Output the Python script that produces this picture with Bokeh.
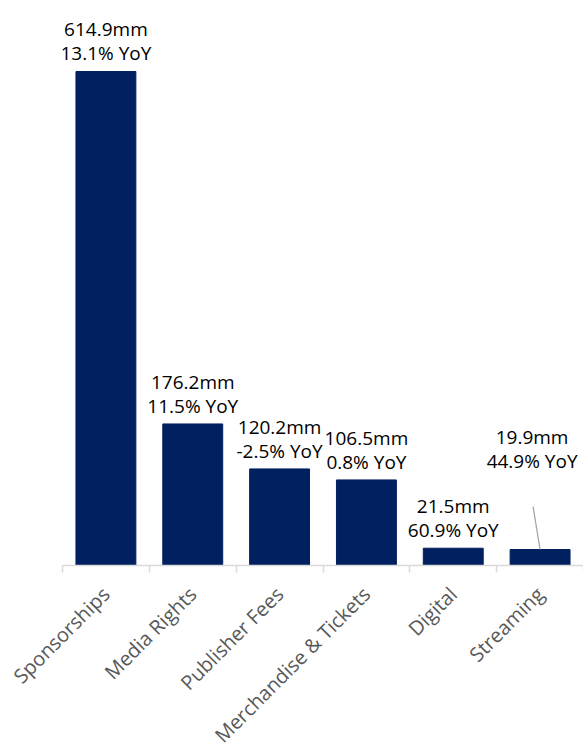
from math import pi
from bokeh.plotting import figure
from bokeh.models import Range1d, FixedTicker, ColumnDataSource
from bokeh.core.properties import value
from bokeh.embed import file_html
from bokeh.resources import INLINE

categories = ["Sponsorships", "Media Rights", "Publisher Fees",
              "Merchandise & Tickets", "Digital", "Streaming"]
revenue_mm = [614.9, 176.2, 120.2, 106.5, 21.5, 19.9]
yoy_pct = [13.1, 11.5, -2.5, 0.8, 60.9, 44.9]

FONT = "Open Sans"
BAR = "#002060"

positions = list(range(1, len(categories) + 1))
line1 = [f"{v:.1f}mm" for v in revenue_mm]
line2 = [f"{y:.1f}% YoY" for y in yoy_pct]

FRAME_W, FRAME_H = 521, 557
Y_MAX = 693.3
X0, X1 = 0.5, len(categories) + 0.5

p = figure(width=583, height=740, output_backend="svg", toolbar_location=None,
           x_range=Range1d(X0, X1), y_range=Range1d(0, Y_MAX),
           frame_width=FRAME_W, frame_height=FRAME_H,
           min_border_left=62, min_border_right=0, min_border_top=8,
           min_border_bottom=175)
p.outline_line_color = None
p.xgrid.grid_line_color = None
p.ygrid.grid_line_color = None
p.yaxis.visible = False
p.background_fill_color = "white"
p.border_fill_color = "white"

src = ColumnDataSource(dict(x=positions, top=revenue_mm))
p.vbar(x="x", top="top", width=0.69, bottom=0, source=src,
       fill_color=BAR, line_color=BAR)

n = len(categories) - 1
main = ColumnDataSource(dict(x=positions[:n], y=revenue_mm[:n], l1=line1[:n], l2=line2[:n]))
last = ColumnDataSource(dict(x=positions[n:], y=revenue_mm[n:], l1=line1[n:], l2=line2[n:]))

common = dict(text_font=value(FONT), text_font_size="19px", text_color="#000000",
              text_align="center", text_baseline="alphabetic")
p.text(x="x", y="y", text="l2", y_offset=-18, source=main, **common)
p.text(x="x", y="y", text="l1", y_offset=-42, source=main, **common)
p.text(x="x", y="y", text="l2", x_offset=-8, y_offset=-89, source=last, **common)
p.text(x="x", y="y", text="l1", x_offset=-8, y_offset=-113, source=last, **common)

# leader line for the moved Streaming label
ux = FRAME_W / (X1 - X0)
uy = FRAME_H / Y_MAX
sx, sy = positions[n], revenue_mm[n]
p.segment(x0=[sx], y0=[sy], x1=[sx - 7 / ux], y1=[sy + 43 / uy],
          line_color="#A6A6A6", line_width=1.3)

ax = p.xaxis[0]
ax.ticker = FixedTicker(ticks=positions,
                        minor_ticks=[x - 0.5 for x in positions] + [positions[-1] + 0.5])
ax.major_label_overrides = {x: c for x, c in zip(positions, categories)}
ax.major_label_orientation = pi / 4
ax.major_label_text_font = FONT
ax.major_label_text_font_size = "20px"
ax.major_label_text_color = "#595959"
ax.major_tick_line_color = None
ax.minor_tick_line_color = "#D9D9D9"
ax.minor_tick_line_width = 1.5
ax.minor_tick_out = 7
ax.minor_tick_in = 0
ax.axis_line_color = "#D9D9D9"
ax.axis_line_width = 1.5
ax.major_label_standoff = 18

open("out.html", "w").write(file_html(p, INLINE))
